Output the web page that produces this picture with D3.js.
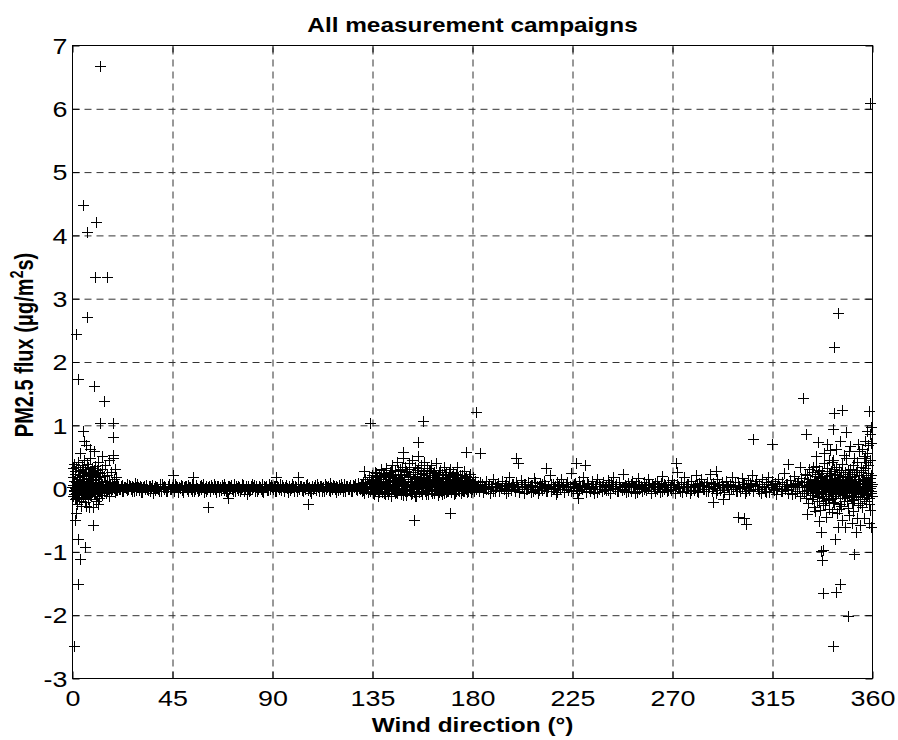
<!DOCTYPE html>
<html>
<head>
<meta charset="utf-8">
<script src="https://cdn.jsdelivr.net/npm/d3@7"></script>
<style>
  body { margin: 0; background: #fff; }
  svg { display: block; }
  text { font-family: "Liberation Sans", Arial, sans-serif; fill: #000; }
</style>
</head>
<body>
<svg id="chart" width="898" height="740"></svg>
<script>
// wind direction (deg) vs PM2.5 flux
const xTicks = [0, 45, 90, 135, 180, 225, 270, 315, 360]
const yTicks = [-3, -2, -1, 0, 1, 2, 3, 4, 5, 6, 7]

// dense cluster just east of north
const northCluster = [
  [0.3,0.05],[0.5,-0.12],[0.6,0.31],[0.8,0.12],[0.9,-0.04],[1.1,0.38],[1.2,0.02],[1.3,-0.18],[1.5,0.22],[1.6,-0.08],
  [1.7,0.09],[1.9,0.33],[2.0,-0.02],[2.1,0.15],[2.2,-0.25],[2.4,0.04],[2.5,0.27],[2.6,-0.11],[2.8,0.07],[2.9,0.41],
  [3.0,-0.06],[3.2,0.18],[3.3,-0.15],[3.4,0.01],[3.6,0.29],[3.7,-0.03],[3.8,0.11],[4.0,-0.2],[4.1,0.06],[4.3,0.36],
  [4.4,-0.09],[4.5,0.14],[4.7,-0.01],[4.8,0.24],[5.0,-0.14],[5.1,0.08],[5.3,0.45],[5.4,-0.05],[5.5,0.19],[5.7,-0.22],
  [5.8,0.03],[6.0,0.3],[6.1,-0.1],[6.3,0.12],[6.4,-0.28],[6.6,0.05],[6.7,0.38],[6.9,-0.04],[7.0,0.16],[7.2,-0.17],
  [7.3,0.02],[7.5,0.26],[7.7,-0.08],[7.8,0.1],[8.0,0.48],[8.1,-0.02],[8.3,0.2],[8.5,-0.13],[8.6,0.04],[8.8,0.32],
  [9.0,-0.06],[9.1,0.13],[9.3,-0.3],[9.5,0.07],[9.6,0.22],[9.8,-0.1],[10.0,0.02],[10.2,0.35],[10.4,-0.04],[10.5,0.15],
  [10.7,-0.2],[10.9,0.05],[11.1,0.28],[11.3,-0.07],[11.5,0.1],[11.7,0.42],[11.9,-0.03],[12.1,0.17],[12.3,-0.15],[12.5,0.04],
  [12.8,0.24],[13.0,-0.06],[13.2,0.09],[13.5,0.3],[13.7,-0.11],[14.0,0.03],[14.3,0.19],[14.5,-0.04],[14.8,0.12],[15.0,0.37],
  [15.3,-0.08],[15.6,0.06],[15.9,0.21],[16.2,-0.02],[16.5,0.1],[16.8,-0.12],[17.1,0.04],[17.4,0.26],[17.7,-0.05],[18.0,0.08],
  [18.3,0.47],[18.6,0.01],[19.0,0.14],[19.3,-0.06],[19.7,0.05],[20.0,0.18],[20.4,-0.03],
  [0.15,0.02],[0.7,-0.03],[1.0,0.05],[1.45,0.0],[1.8,-0.05],[2.3,0.03],[2.7,0.07],[3.1,-0.02],[3.5,0.04],[3.9,0.0],
  [4.2,-0.04],[4.6,0.06],[4.9,0.02],[5.2,-0.03],[5.6,0.05],[5.9,0.0],[6.2,0.08],[6.5,-0.05],[6.8,0.03],[7.1,0.01],
  [7.4,-0.02],[7.9,0.06],[8.4,0.0],[8.9,-0.04],[9.4,0.04],[9.9,0.01],[10.3,-0.03],[10.8,0.07],[11.2,0.02],[11.6,-0.05],
  [12.0,0.04],[12.4,0.0],[12.9,-0.02],[13.4,0.06],[13.9,0.03],[14.4,-0.04],[14.9,0.02],[15.4,0.05],[15.8,-0.01],[16.3,0.03],
  [16.7,-0.04],[17.2,0.07],[17.6,0.01],[18.1,-0.02],[18.5,0.04],[18.9,0.0],[19.4,0.03],[19.8,-0.03],[20.2,0.05],[20.6,0.01],
  [0.25,0.18],[0.75,-0.1],[1.25,0.27],[1.75,-0.16],[2.25,0.12],[2.75,0.34],[3.25,-0.09],[3.75,0.21],[4.25,-0.14],[4.75,0.3],
  [5.25,0.09],[5.75,-0.18],[6.25,0.25],[6.75,-0.07],[7.25,0.33],[7.75,0.14],[8.25,-0.11],[8.75,0.23],[9.25,0.04],[9.75,0.29],
  [10.25,-0.09],[10.75,0.19],[11.25,-0.12],[11.75,0.26]
]

// quiet sector, thin band
const quietBand = [
  [20.9,0.03],[21.6,-0.02],[22.4,0.05],[23.1,-0.04],[23.8,0.01],[24.6,0.06],[25.3,-0.01],[26.1,0.03],[26.8,-0.05],[27.5,0.02],
  [28.3,0.08],[29.0,-0.03],[29.8,0.01],[30.5,0.04],[31.2,-0.06],[32.0,0.02],[32.7,-0.01],[33.5,0.05],[34.2,-0.03],[34.9,0.03],
  [35.7,0.0],[36.4,-0.07],[37.2,0.04],[37.9,0.02],[38.6,-0.02],[39.4,0.06],[40.1,-0.04],[40.9,0.01],[41.6,0.03],[42.3,-0.05],
  [43.1,0.02],[43.8,0.07],[44.6,-0.02],[45.3,0.04],[46.0,-0.01],[46.8,0.03],[47.5,-0.06],[48.3,0.02],[49.0,0.05],[49.7,-0.03],
  [50.5,0.01],[51.2,0.04],[52.0,-0.04],[52.7,0.02],[53.4,-0.01],[54.2,0.06],[54.9,-0.05],[55.7,0.03],[56.4,0.0],[57.1,-0.03],
  [57.9,0.05],[58.6,0.02],[59.4,-0.06],[60.1,0.03],[60.8,-0.01],[61.6,0.04],[62.3,-0.04],[63.1,0.01],[63.8,0.07],[64.5,-0.02],
  [65.3,0.03],[66.0,-0.05],[66.8,0.02],[67.5,0.05],[68.2,-0.03],[69.0,0.01],[69.7,-0.07],[70.5,0.04],[71.2,0.02],[71.9,-0.02],
  [72.7,0.06],[73.4,-0.04],[74.2,0.0],[74.9,0.03],[75.6,-0.05],[76.4,0.02],[77.1,0.05],[77.9,-0.01],[78.6,-0.09],[79.3,0.03],
  [80.1,-0.03],[80.8,0.06],[81.6,0.01],[82.3,-0.04],[83.0,0.04],[83.8,-0.02],[84.5,0.02],[85.3,0.07],[86.0,-0.06],[86.7,0.01],
  [87.5,0.04],[88.2,-0.03],[89.0,0.02],[89.7,0.05],[90.4,-0.02],[91.2,0.03],[91.9,-0.05],[92.7,0.01],[93.4,0.06],[94.1,-0.03],
  [94.9,0.02],[95.6,-0.01],[96.4,0.05],[97.1,-0.06],[97.8,0.03],[98.6,0.0],[99.3,0.04],[100.1,-0.04],[100.8,0.02],[101.5,0.07],
  [102.3,-0.02],[103.0,0.03],[103.8,-0.05],[104.5,0.01],[105.2,0.05],[106.0,-0.03],[106.7,0.02],[107.5,-0.07],[108.2,0.04],[108.9,0.01],
  [109.7,-0.02],[110.4,0.06],[111.2,-0.04],[111.9,0.03],[112.6,0.0],[113.4,-0.05],[114.1,0.04],[114.9,0.02],[115.6,-0.03],[116.3,0.08],
  [117.1,-0.01],[117.8,0.03],[118.6,-0.06],[119.3,0.02],[120.0,0.05],[120.8,-0.02],[121.5,0.01],[122.3,0.06],[123.0,-0.04],[123.7,0.03],
  [124.5,-0.01],[125.2,0.05],[126.0,-0.05],[126.7,0.02],[127.4,0.07],[128.2,-0.03],[128.9,0.04],[129.7,-0.02],
  [21.2,-0.02],[22.0,0.04],[22.7,-0.05],[23.5,0.02],[24.2,0.0],[24.9,-0.03],[25.7,0.05],[26.4,-0.01],[27.2,0.03],[27.9,-0.04],
  [28.6,0.01],[29.4,0.06],[30.1,-0.03],[30.9,0.02],[31.6,-0.06],[32.3,0.04],[33.1,0.01],[33.8,-0.02],[34.6,0.03],[35.3,-0.04],
  [36.0,0.05],[36.8,0.0],[37.5,-0.03],[38.3,0.02],[39.0,-0.05],[39.7,0.03],[40.5,0.06],[41.2,-0.01],[42.0,0.02],[42.7,-0.04],
  [43.4,0.04],[44.2,-0.02],[44.9,0.01],[45.7,-0.05],[46.4,0.06],[47.1,0.02],[47.9,-0.03],[48.6,0.0],[49.4,0.04],[50.1,-0.06],
  [50.8,0.03],[51.6,-0.02],[52.3,0.05],[53.1,0.01],[53.8,-0.04],[54.5,0.02],[55.3,-0.01],[56.0,0.05],[56.8,-0.05],[57.5,0.03],
  [58.2,-0.02],[59.0,0.06],[59.7,0.0],[60.5,-0.04],[61.2,0.02],[61.9,-0.03],[62.7,0.05],[63.4,-0.01],[64.2,0.03],[64.9,-0.06],
  [65.6,0.04],[66.4,0.01],[67.1,-0.03],[67.9,0.02],[68.6,0.06],[69.3,-0.04],[70.1,0.03],[70.8,-0.01],[71.6,0.05],[72.3,-0.05],
  [73.0,0.02],[73.8,0.04],[74.5,-0.03],[75.3,0.01],[76.0,-0.02],[76.7,0.06],[77.5,-0.04],[78.2,0.03],[79.0,0.0],[79.7,-0.05],
  [80.4,0.04],[81.2,-0.02],[81.9,0.05],[82.7,0.01],[83.4,-0.04],[84.1,0.03],[84.9,-0.01],[85.6,-0.05],[86.4,0.04],[87.1,0.02],
  [87.8,-0.03],[88.6,0.06],[89.3,-0.02],[90.1,0.01],[90.8,0.04],[91.5,-0.04],[92.3,0.03],[93.0,-0.01],[93.8,0.02],[94.5,0.05],
  [95.2,-0.05],[96.0,0.02],[96.7,0.0],[97.5,0.04],[98.2,-0.03],[98.9,0.06],[99.7,-0.01],[100.4,0.03],[101.2,-0.05],[101.9,0.01],
  [102.6,0.04],[103.4,-0.03],[104.1,0.02],[104.9,-0.02],[105.6,0.06],[106.3,0.0],[107.1,-0.04],[107.8,0.03],[108.6,-0.01],[109.3,0.05],
  [110.0,-0.03],[110.8,0.02],[111.5,0.04],[112.3,-0.05],[113.0,0.01],[113.7,0.06],[114.5,-0.02],[115.2,0.03],[116.0,-0.04],[116.7,0.02],
  [117.4,0.05],[118.2,-0.01],[118.9,0.04],[119.7,-0.03],[120.4,0.0],[121.1,0.06],[121.9,-0.05],[122.6,0.02],[123.4,0.04],[124.1,-0.02],
  [124.8,0.01],[125.6,-0.04],[126.3,0.05],[127.1,0.03],[127.8,-0.02],[128.5,0.08],[129.3,0.01]
]

// south-east sector, wide band
const southBand = [
  [130.2,0.06],[130.5,-0.04],[130.9,0.1],[131.2,0.02],[131.5,-0.07],[131.9,0.14],[132.2,0.04],[132.5,-0.02],[132.9,0.09],[133.2,-0.06],
  [133.5,0.17],[133.9,0.03],[134.2,-0.05],[134.5,0.12],[134.9,0.01],[135.2,0.2],[135.5,-0.08],[135.9,0.07],[136.2,0.15],[136.5,-0.03],
  [136.9,0.24],[137.2,0.05],[137.5,-0.1],[137.9,0.11],[138.2,0.19],[138.5,-0.02],[138.9,0.08],[139.2,0.28],[139.5,-0.06],[139.9,0.14],
  [140.2,0.03],[140.5,0.22],[140.9,-0.09],[141.2,0.1],[141.5,0.31],[141.9,0.0],[142.2,0.17],[142.5,-0.05],[142.9,0.25],[143.2,0.06],
  [143.5,-0.12],[143.9,0.2],[144.2,0.36],[144.5,0.02],[144.9,0.13],[145.2,-0.07],[145.5,0.27],[145.9,0.09],[146.2,0.41],[146.5,-0.03],
  [146.9,0.18],[147.2,0.05],[147.5,0.3],[147.9,-0.1],[148.2,0.22],[148.5,0.12],[148.9,0.48],[149.2,-0.02],[149.5,0.15],[149.9,0.34],
  [150.2,0.04],[150.5,-0.11],[150.9,0.26],[151.2,0.1],[151.5,0.39],[151.9,-0.05],[152.2,0.19],[152.5,0.07],[152.9,0.44],[153.2,-0.08],
  [153.5,0.23],[153.9,0.14],[154.2,0.33],[154.5,-0.13],[154.9,0.09],[155.2,0.28],[155.5,0.02],[155.9,0.5],[156.2,-0.06],[156.5,0.17],
  [156.9,0.37],[157.2,0.05],[157.5,-0.1],[157.9,0.24],[158.2,0.12],[158.5,0.42],[158.9,-0.04],[159.2,0.2],[159.5,0.08],[159.9,0.31],
  [160.2,-0.09],[160.5,0.15],[160.9,0.27],[161.2,0.03],[161.5,0.36],[161.9,-0.07],[162.2,0.18],[162.5,0.1],[162.9,0.25],[163.2,-0.03],
  [163.5,0.14],[163.9,0.4],[164.2,0.06],[164.5,-0.11],[164.9,0.21],[165.2,0.12],[165.5,0.29],[165.9,-0.05],[166.2,0.09],[166.5,0.23],
  [166.9,0.02],[167.2,0.34],[167.5,-0.08],[167.9,0.16],[168.2,0.07],[168.5,0.26],[168.9,-0.04],[169.2,0.11],[169.5,0.2],[169.9,0.0],
  [170.2,0.3],[170.5,-0.06],[170.9,0.13],[171.2,0.05],[171.5,0.24],[171.9,-0.09],[172.2,0.1],[172.5,0.18],[172.9,0.02],[173.2,0.33],
  [173.5,-0.03],[173.9,0.12],[174.2,0.06],[174.5,0.21],[174.9,-0.07],[175.2,0.09],[175.5,0.16],[175.9,0.01],[176.2,0.27],[176.5,-0.04],
  [176.9,0.11],[177.2,0.05],[177.5,0.19],[177.9,-0.06],[178.2,0.08],[178.5,0.14],[178.9,0.0],[179.2,0.23],[179.5,-0.03],[179.9,0.1],
  [180.2,0.04],[180.5,0.17],[180.9,-0.05],[181.2,0.07],[181.5,0.12],[181.9,-0.01],
  [130.05,0.02],[130.7,0.05],[131.05,-0.03],[131.7,0.07],[132.05,0.0],[132.7,0.04],[133.05,-0.05],[133.7,0.08],[134.05,0.03],[134.7,-0.02],
  [135.05,0.06],[135.7,0.01],[136.05,-0.04],[136.7,0.09],[137.05,0.02],[137.7,0.05],[138.05,-0.06],[138.7,0.1],[139.05,0.04],[139.7,-0.01],
  [140.05,0.07],[140.7,0.0],[141.05,0.12],[141.7,-0.05],[142.05,0.06],[142.7,0.03],[143.05,0.09],[143.7,-0.03],[144.05,0.05],[144.7,0.11],
  [145.05,0.01],[145.7,-0.06],[146.05,0.08],[146.7,0.04],[147.05,-0.02],[147.7,0.13],[148.05,0.06],[148.7,0.0],[149.05,0.1],[149.7,-0.04],
  [150.05,0.07],[150.7,0.02],[151.05,0.14],[151.7,-0.03],[152.05,0.05],[152.7,0.09],[153.05,0.01],[153.7,-0.06],[154.05,0.11],[154.7,0.04],
  [155.05,-0.02],[155.7,0.08],[156.05,0.03],[156.7,0.12],[157.05,-0.05],[157.7,0.06],[158.05,0.0],[158.7,0.1],[159.05,0.04],[159.7,-0.03],
  [160.05,0.07],[160.7,0.02],[161.05,0.13],[161.7,-0.04],[162.05,0.05],[162.7,0.01],[163.05,0.09],[163.7,-0.02],[164.05,0.06],[164.7,0.03],
  [165.05,-0.06],[165.7,0.08],[166.05,0.02],[166.7,0.11],[167.05,-0.03],[167.7,0.05],[168.05,0.0],[168.7,0.07],[169.05,-0.05],[169.7,0.04],
  [170.05,0.09],[170.7,0.01],[171.05,-0.02],[171.7,0.06],[172.05,0.03],[172.7,-0.04],[173.05,0.08],[173.7,0.02],[174.05,-0.01],[174.7,0.05],
  [175.05,0.1],[175.7,-0.03],[176.05,0.04],[176.7,0.0],[177.05,0.07],[177.7,0.02],[178.05,-0.05],[178.7,0.06],[179.05,0.01],[179.7,0.04],
  [180.05,-0.02],[180.7,0.05],[181.05,0.0],[181.7,0.03],
  [135.35,0.13],[135.85,-0.09],[136.35,0.26],[136.85,0.04],[137.35,0.18],[137.85,-0.12],[138.35,0.09],[138.85,0.3],[139.35,0.02],[139.85,0.21],
  [140.35,-0.07],[140.85,0.15],[141.35,0.24],[141.85,0.06],[142.35,-0.1],[142.85,0.19],[143.35,0.29],[143.85,0.01],[144.35,0.16],[144.85,-0.05],
  [145.35,0.22],[145.85,0.11],[146.35,-0.08],[146.85,0.28],[147.35,0.14],[147.85,0.03],[148.35,0.33],[148.85,-0.11],[149.35,0.2],[149.85,0.07],
  [150.35,0.27],[150.85,-0.04],[151.35,0.17],[151.85,0.3],[152.35,-0.09],[152.85,0.12],[153.35,0.25],[153.85,0.0],[154.35,0.19],[154.85,-0.12],
  [155.35,0.14],[155.85,0.32],[156.35,0.05],[156.85,0.22],[157.35,-0.07],[157.85,0.16],[158.35,0.27],[158.85,0.08],[159.35,-0.1],[159.85,0.2],
  [160.35,0.11],[160.85,0.29],[161.35,-0.03],[161.85,0.17],[162.35,0.24],[162.85,-0.08],[163.35,0.06],[163.85,0.21],[164.35,0.13],[164.85,-0.02],
  [165.35,0.26],[165.85,0.1],[166.35,-0.09],[166.85,0.18],[167.35,0.04],[167.85,0.23],[168.35,-0.06],[168.85,0.15],[169.35,0.08],[169.85,0.25],
  [170.35,-0.02],[170.85,0.19],[171.35,0.07],[171.85,0.14],[172.35,-0.08],[172.85,0.22],[173.35,0.03],[173.85,0.17],[174.35,-0.05],[174.85,0.12],
  [175.35,0.2],[175.85,-0.04],[176.35,0.09],[176.85,0.16],[177.35,-0.02],[177.85,0.13],[178.35,0.06],[178.85,0.18],[179.35,-0.06],[179.85,0.08]
]

// south-west to north-west sector
const westBand = [
  [182.5,0.05],[183.1,-0.03],[183.8,0.09],[184.4,0.01],[185.1,-0.06],[185.7,0.04],[186.4,0.12],[187.0,-0.02],[187.7,0.06],[188.3,-0.08],
  [189.0,0.03],[189.6,0.15],[190.3,-0.04],[190.9,0.02],[191.6,0.08],[192.2,-0.05],[192.9,0.0],[193.5,0.11],[194.2,-0.02],[194.8,0.05],
  [195.5,-0.07],[196.1,0.03],[196.8,0.18],[197.4,-0.03],[198.1,0.06],[198.7,0.01],[199.4,-0.05],[200.0,0.09],[200.7,0.02],[201.3,-0.04],
  [202.0,0.13],[202.6,0.04],[203.3,-0.08],[203.9,0.07],[204.6,-0.01],[205.2,0.1],[205.9,0.03],[206.5,-0.06],[207.2,0.05],[207.8,0.16],
  [208.5,-0.02],[209.1,0.04],[209.8,-0.07],[210.4,0.08],[211.1,0.01],[211.7,-0.03],[212.4,0.12],[213.0,0.05],[213.7,-0.05],[214.3,0.02],
  [215.0,0.2],[215.6,-0.04],[216.3,0.06],[216.9,0.0],[217.6,-0.09],[218.2,0.09],[218.9,0.03],[219.5,-0.02],[220.2,0.14],[220.8,0.05],
  [221.5,-0.06],[222.1,0.02],[222.8,0.1],[223.4,-0.03],[224.1,0.04],[224.7,0.24],[225.4,-0.05],[226.0,0.07],[226.7,0.01],[227.3,-0.08],
  [228.0,0.12],[228.6,0.03],[229.3,-0.02],[229.9,0.17],[230.6,0.05],[231.2,-0.06],[231.9,0.08],[232.5,0.0],[233.2,-0.04],[233.8,0.11],
  [234.5,0.04],[235.1,-0.07],[235.8,0.06],[236.4,0.15],[237.1,-0.02],[237.7,0.03],[238.4,-0.05],[239.0,0.09],[239.7,0.02],[240.3,-0.03],
  [241.0,0.13],[241.6,0.06],[242.3,-0.08],[242.9,0.04],[243.6,0.18],[244.2,-0.01],[244.9,0.07],[245.5,-0.05],[246.2,0.1],[246.8,0.02],
  [247.5,-0.03],[248.1,0.22],[248.8,0.05],[249.4,-0.06],[250.1,0.08],[250.7,0.01],[251.4,-0.04],[252.0,0.12],[252.7,0.04],[253.3,-0.07],
  [254.0,0.06],[254.6,0.16],[255.3,-0.02],[255.9,0.03],[256.6,-0.05],[257.2,0.09],[257.9,0.01],[258.5,-0.03],[259.2,0.14],[259.8,0.05],
  [260.5,-0.08],[261.1,0.07],[261.8,0.02],[262.4,-0.04],[263.1,0.11],[263.7,0.04],[264.4,-0.06],[265.0,0.08],[265.7,0.19],[266.3,-0.02],
  [267.0,0.05],[267.6,-0.05],[268.3,0.1],[268.9,0.02],[269.6,-0.03],[270.2,0.13],[270.9,0.06],[271.5,-0.07],[272.2,0.25],[272.8,0.03],
  [273.5,-0.04],[274.1,0.09],[274.8,0.01],[275.4,0.17],[276.1,-0.05],[276.7,0.06],[277.4,0.02],[278.0,-0.08],[278.7,0.12],[279.3,0.04],
  [280.0,-0.03],[280.6,0.2],[281.3,0.07],[281.9,-0.06],[282.6,0.03],[283.2,0.14],[283.9,-0.02],[284.5,0.05],[285.2,-0.05],[285.8,0.1],
  [286.5,0.01],[287.1,0.23],[287.8,-0.04],[288.4,0.08],[289.1,0.03],[289.7,-0.07],[290.4,0.15],[291.0,0.05],[291.7,-0.03],[292.3,0.09],
  [293.0,0.02],[293.6,-0.06],[294.3,0.12],[294.9,0.04],[295.6,-0.09],[296.2,0.07],[296.9,0.18],[297.5,-0.02],[298.2,0.05],[298.8,-0.05],
  [299.5,0.1],[300.1,0.01],[300.8,-0.04],[301.4,0.16],[302.1,0.06],[302.7,-0.07],[303.4,0.03],[304.0,0.13],[304.7,-0.03],[305.3,0.08],
  [306.0,0.21],[306.6,-0.05],[307.3,0.04],[307.9,0.11],[308.6,-0.02],[309.2,0.06],[309.9,-0.08],[310.5,0.14],[311.2,0.02],[311.8,-0.04],
  [312.5,0.09],[313.1,0.18],[313.8,-0.06],[314.4,0.05],[315.1,0.12],[315.7,-0.03],[316.4,0.07],[317.0,-0.09],[317.7,0.15],[318.3,0.03],
  [319.0,-0.05],[319.6,0.1],[320.3,0.24],[320.9,-0.02],[321.6,0.06],[322.2,-0.07],[322.9,0.13],[323.5,0.04],[324.2,-0.1],[324.8,0.19],
  [325.5,0.08],[326.1,-0.04],[326.8,0.11],[327.4,-0.12],[328.1,0.16],[328.7,0.05],[329.4,-0.08],[330.0,0.22],
  [182.35,0.02],[183.35,-0.04],[184.35,0.06],[185.35,0.0],[186.35,-0.02],[187.35,0.04],[188.35,0.01],[189.35,-0.05],[190.35,0.07],[191.35,0.03],
  [192.35,-0.03],[193.35,0.05],[194.35,0.0],[195.35,0.08],[196.35,-0.04],[197.35,0.02],[198.35,0.06],[199.35,-0.01],[200.35,0.04],[201.35,-0.06],
  [202.35,0.03],[203.35,0.07],[204.35,-0.02],[205.35,0.01],[206.35,0.05],[207.35,-0.05],[208.35,0.09],[209.35,0.02],[210.35,-0.03],[211.35,0.06],
  [212.35,0.0],[213.35,-0.04],[214.35,0.04],[215.35,0.07],[216.35,-0.02],[217.35,0.03],[218.35,-0.06],[219.35,0.05],[220.35,0.01],[221.35,-0.01],
  [222.35,0.06],[223.35,0.02],[224.35,-0.05],[225.35,0.04],[226.35,0.08],[227.35,0.0],[228.35,-0.03],[229.35,0.05],[230.35,0.02],[231.35,-0.04],
  [232.35,0.07],[233.35,0.01],[234.35,-0.02],[235.35,0.04],[236.35,-0.06],[237.35,0.06],[238.35,0.03],[239.35,-0.01],[240.35,0.05],[241.35,-0.03],
  [242.35,0.09],[243.35,0.0],[244.35,0.03],[245.35,-0.05],[246.35,0.06],[247.35,0.02],[248.35,-0.02],[249.35,0.04],[250.35,-0.04],[251.35,0.07],
  [252.35,0.01],[253.35,0.03],[254.35,-0.06],[255.35,0.05],[256.35,0.0],[257.35,-0.02],[258.35,0.06],[259.35,0.02],[260.35,-0.04],[261.35,0.04],
  [262.35,0.08],[263.35,-0.01],[264.35,0.03],[265.35,-0.05],[266.35,0.06],[267.35,0.01],[268.35,-0.03],[269.35,0.05],[270.35,0.02],[271.35,-0.02],
  [272.35,0.07],[273.35,0.0],[274.35,-0.06],[275.35,0.04],[276.35,0.02],[277.35,0.06],[278.35,-0.03],[279.35,0.01],[280.35,0.05],[281.35,-0.04],
  [282.35,0.08],[283.35,0.03],[284.35,-0.01],[285.35,0.04],[286.35,-0.05],[287.35,0.06],[288.35,0.0],[289.35,0.03],[290.35,-0.03],[291.35,0.07],
  [292.35,0.02],[293.35,-0.06],[294.35,0.05],[295.35,0.01],[296.35,-0.02],[297.35,0.04],[298.35,0.09],[299.35,-0.04],[300.35,0.03],[301.35,0.0],
  [302.35,0.06],[303.35,-0.05],[304.35,0.02],[305.35,0.05],[306.35,-0.01],[307.35,0.07],[308.35,0.03],[309.35,-0.04],[310.35,0.04],[311.35,0.01],
  [312.35,-0.06],[313.35,0.06],[314.35,0.02],[315.35,-0.02],[316.35,0.08],[317.35,0.0],[318.35,0.04],[319.35,-0.05],[320.35,0.03],[321.35,0.06],
  [322.35,-0.03],[323.35,0.01],[324.35,0.05],[325.35,-0.07],[326.35,0.07],[327.35,0.02],[328.35,-0.04],[329.35,0.09]
]

// north-west sector, widest scatter
const northWestBand = [
  [330.2,0.04],[330.4,-0.15],[330.7,0.21],[330.9,-0.03],[331.1,0.1],[331.4,-0.24],[331.6,0.07],[331.8,0.3],[332.1,-0.08],[332.3,0.15],
  [332.5,0.0],[332.8,-0.18],[333.0,0.26],[333.2,0.05],[333.5,-0.11],[333.7,0.12],[333.9,-0.3],[334.2,0.02],[334.4,0.19],[334.6,-0.06],
  [334.9,0.35],[335.1,0.08],[335.3,-0.21],[335.6,0.13],[335.8,-0.02],[336.0,0.28],[336.3,-0.14],[336.5,0.06],[336.7,-0.35],[337.0,0.17],
  [337.2,0.01],[337.4,-0.09],[337.7,0.24],[337.9,0.1],[338.1,-0.27],[338.4,0.03],[338.6,0.4],[338.8,-0.05],[339.1,0.14],[339.3,-0.19],
  [339.5,0.07],[339.8,0.31],[340.0,-0.12],[340.2,0.0],[340.5,0.2],[340.7,-0.33],[340.9,0.09],[341.2,-0.04],[341.4,0.27],[341.6,0.12],
  [341.9,-0.16],[342.1,0.05],[342.3,0.44],[342.6,-0.08],[342.8,0.16],[343.0,-0.24],[343.3,0.02],[343.5,0.23],[343.7,-0.1],[344.0,0.34],
  [344.2,0.07],[344.4,-0.4],[344.7,0.13],[344.9,-0.02],[345.1,0.29],[345.4,-0.15],[345.6,0.04],[345.8,0.18],[346.1,-0.28],[346.3,0.1],
  [346.5,0.38],[346.8,-0.06],[347.0,0.14],[347.2,-0.2],[347.5,0.03],[347.7,0.25],[347.9,-0.11],[348.2,0.08],[348.4,0.47],[348.6,-0.03],
  [348.9,0.17],[349.1,-0.32],[349.3,0.06],[349.6,0.22],[349.8,-0.13],[350.0,0.01],[350.3,0.3],[350.5,-0.07],[350.7,0.12],[351.0,-0.23],
  [351.2,0.05],[351.4,0.36],[351.7,-0.04],[351.9,0.19],[352.1,-0.17],[352.4,0.09],[352.6,0.26],[352.8,-0.09],[353.1,0.02],[353.3,0.42],
  [353.5,-0.26],[353.8,0.11],[354.0,-0.01],[354.2,0.21],[354.5,-0.14],[354.7,0.07],[354.9,0.33],[355.2,-0.05],[355.4,0.15],[355.6,-0.3],
  [355.9,0.04],[356.1,0.28],[356.3,-0.1],[356.6,0.13],[356.8,0.5],[357.0,-0.02],[357.3,0.18],[357.5,-0.21],[357.7,0.08],[358.0,0.37],
  [358.2,-0.07],[358.4,0.24],[358.7,-0.15],[358.9,0.1],[359.1,0.45],[359.4,-0.04],[359.6,0.2],[359.8,-0.12],[359.9,0.06],
  [330.3,0.01],[330.8,0.05],[331.3,-0.03],[331.9,0.02],[332.4,0.07],[332.9,-0.05],[333.4,0.03],[333.8,0.0],[334.3,-0.02],[334.8,0.06],
  [335.2,0.02],[335.7,-0.04],[336.2,0.04],[336.6,0.09],[337.1,-0.01],[337.6,0.05],[338.0,-0.06],[338.5,0.02],[338.9,0.07],[339.4,-0.03],
  [339.9,0.04],[340.4,0.0],[340.8,-0.05],[341.3,0.06],[341.8,0.02],[342.2,-0.02],[342.7,0.08],[343.2,0.03],[343.6,-0.06],[344.1,0.01],
  [344.6,0.05],[345.0,-0.03],[345.5,0.09],[345.9,0.02],[346.4,-0.04],[346.9,0.06],[347.3,0.0],[347.8,0.04],[348.3,-0.07],[348.7,0.03],
  [349.2,0.1],[349.7,-0.02],[350.1,0.05],[350.6,0.01],[351.1,-0.05],[351.5,0.07],[352.0,0.02],[352.5,-0.03],[352.9,0.06],[353.4,0.0],
  [353.9,-0.06],[354.3,0.04],[354.8,0.08],[355.3,-0.02],[355.7,0.03],[356.2,-0.05],[356.7,0.06],[357.1,0.01],[357.6,0.04],[358.1,-0.03],
  [358.5,0.07],[359.0,0.0],[359.3,-0.05],[359.7,0.03],
  [335.05,-0.12],[335.55,0.22],[336.05,-0.2],[336.55,0.16],[337.05,-0.07],[337.55,0.27],[338.05,-0.15],[338.55,0.12],[339.05,-0.24],[339.55,0.19],
  [340.05,0.05],[340.55,-0.17],[341.05,0.24],[341.55,-0.09],[342.05,0.14],[342.55,-0.22],[343.05,0.3],[343.55,-0.13],[344.05,0.2],[344.55,-0.06],
  [345.05,0.11],[345.55,-0.25],[346.05,0.26],[346.55,-0.1],[347.05,0.19],[347.55,-0.16],[348.05,0.13],[348.55,-0.21],[349.05,0.28],[349.55,-0.08],
  [350.05,0.17],[350.55,-0.14],[351.05,0.23],[351.55,-0.19],[352.05,0.1],[352.55,-0.06],[353.05,0.29],[353.55,-0.12],[354.05,0.15],[354.55,-0.23],
  [355.05,0.25],[355.55,-0.09],[356.05,0.12],[356.55,-0.18],[357.05,0.31],[357.55,-0.11],[358.05,0.2],[358.55,-0.25],[359.05,0.16],[359.55,-0.08]
]

// isolated points away from the band
const outliers = [
  [12.7,6.67],[4.9,4.48],[10.9,4.21],[6.7,4.04],[10.4,3.33],[15.7,3.34],[6.7,2.71],[1.9,2.44],[2.9,1.72],[9.8,1.61],
  [14.2,1.38],[12.8,1.03],[18.4,1.03],[4.9,0.9],[18.4,0.81],[5.2,0.75],[6.1,0.68],[10.0,0.58],[18.4,0.53],[1.9,-0.4],
  [9.4,-0.58],[2.9,-0.8],[5.9,-0.93],[3.4,-1.12],[2.6,-1.52],[0.8,-2.5],[7.7,-0.3],[4.2,-0.28],[11.5,-0.25],[16.5,0.45],
  [8.3,0.62],[13.3,0.5],[19.5,0.3],[3.5,0.55],[1.2,-0.5],
  [133.9,1.03],[157.9,1.06],[155.6,0.73],[61.1,-0.3],[106.1,-0.25],[153.7,-0.5],[170.2,-0.39],[45.4,0.2],[54.4,0.18],[70.1,-0.15],
  [91.9,0.17],[101.9,0.17],[131.6,0.27],[148.9,0.57],[177.4,0.57],[181.6,1.2],[183.7,0.55],[199.9,0.48],[200.6,0.4],[213.4,0.31],
  [226.9,0.4],[230.9,0.36],[227.6,-0.15],[271.9,0.39],[288.4,-0.22],[292.9,-0.18],[289.9,0.27],
  [328.9,1.43],[343.1,1.19],[346.6,1.23],[358.6,1.22],[342.4,0.94],[330.1,0.86],[335.6,0.73],[348.1,0.89],[350.0,0.66],
  [315.1,0.69],[341.0,0.6],[322.1,0.38],[327.7,0.34],[333.4,0.33],[330.7,-0.41],[337.1,-0.69],[344.6,-0.61],[352.6,-0.7],[358.6,-0.55],
  [337.1,-1.0],[338.0,-0.97],[337.6,-1.13],[352.1,-1.04],[337.9,-1.66],[343.9,-1.64],[345.4,-1.51],[349.1,-2.02],[342.4,-2.5],[306.4,0.78],
  [303.4,-0.57],[299.5,-0.45],[302.5,-0.47],[359.2,6.08],[344.6,2.77],[343.1,2.23],
  [355.5,0.62],[356.8,0.75],[357.6,0.9],[358.2,0.68],[359.0,0.85],[359.5,0.97],[356.2,0.48],[357.9,0.55],[359.7,0.72],[354.3,0.58],
  [353.5,0.7],[357.2,0.42],[339.5,-0.45],[341.8,-0.38],[346.5,-0.5],[349.8,-0.42],[351.5,-0.36],[354.8,-0.58],[356.5,-0.47],[358.9,-0.35],
  [345.2,-0.33],[336.2,-0.52],[334.5,-0.36],[347.8,-0.62],[353.2,-0.48],[359.5,-0.62],[343.5,-0.8],[350.8,-0.55],
  [335.0,0.5],[338.5,0.56],[340.8,0.45],[344.0,0.62],[347.2,0.52],[349.5,0.58],[351.8,0.48],[339.8,0.7],[345.8,0.75],[342.2,0.42]
]

const points = [...northCluster, ...quietBand, ...southBand, ...westBand, ...northWestBand, ...outliers]

const LEFT = 72.5, RIGHT = 872.5, TOP = 45.5, BOTTOM = 678.5
const TICK = 7
const SX = 1.25   // the source image is stretched horizontally

const svg = d3.select('#chart')

const x = d3.scaleLinear().domain([0, 360]).range([LEFT, RIGHT])
const y = d3.scaleLinear().domain([-3, 7]).range([BOTTOM, TOP])
const crisp = v => Math.floor(v) + 0.5   // keep 1px strokes sharp

// grid
const grid = svg.append('g').attr('class', 'grid')
grid.append('g').attr('transform', `translate(0,${BOTTOM})`)
  .call(d3.axisBottom(x).tickValues(xTicks.slice(1, -1)).tickSizeInner(-(BOTTOM - TOP)).tickSizeOuter(0).tickFormat(''))
grid.append('g').attr('transform', `translate(${LEFT},0)`)
  .call(d3.axisLeft(y).tickValues(yTicks.slice(1, -1)).tickSizeInner(-(RIGHT - LEFT)).tickSizeOuter(0).tickFormat(''))
grid.selectAll('.domain').remove()
grid.selectAll('line')
  .attr('stroke', '#333')
  .attr('stroke-width', 1)
  .attr('stroke-dasharray', '7,5')

// inward ticks on all four sides
const fmt = d => String(d)
const gxb = svg.append('g').attr('transform', `translate(0,${BOTTOM})`)
  .call(d3.axisBottom(x).tickValues(xTicks).tickSizeInner(-TICK).tickSizeOuter(0).tickPadding(12.2).tickFormat(fmt))
const gxt = svg.append('g').attr('transform', `translate(0,${TOP})`)
  .call(d3.axisTop(x).tickValues(xTicks).tickSizeInner(-TICK).tickSizeOuter(0).tickFormat(''))
const gyl = svg.append('g').attr('transform', `translate(${LEFT},0)`)
  .call(d3.axisLeft(y).tickValues(yTicks).tickSizeInner(-TICK).tickSizeOuter(0).tickPadding(4).tickFormat(fmt))
const gyr = svg.append('g').attr('transform', `translate(${RIGHT},0)`)
  .call(d3.axisRight(y).tickValues(yTicks).tickSizeInner(-TICK).tickSizeOuter(0).tickFormat(''))

;[gxb, gxt, gyl, gyr].forEach(g => {
  g.select('.domain').remove()
  g.selectAll('line').attr('stroke', '#000')
})
;[gxb, gyl].forEach(g => {
  g.selectAll('text')
    .attr('fill', '#000')
    .style('font-size', '21.5px')
    .attr('transform', `scale(${SX},1)`)
})
gyl.selectAll('text').attr('dy', '0.36em')

// box
svg.append('rect')
  .attr('x', LEFT).attr('y', TOP)
  .attr('width', RIGHT - LEFT).attr('height', BOTTOM - TOP)
  .attr('fill', 'none').attr('stroke', '#000').attr('stroke-width', 1)

// markers
const cross = 'M-5.5,0H5.5M0,-5.5V5.5'
svg.append('g').attr('class', 'points')
  .selectAll('path').data(points).join('path')
  .attr('d', cross)
  .attr('transform', d => `translate(${crisp(x(d[0]))},${crisp(y(d[1]))})`)
  .attr('fill', 'none')
  .attr('stroke', '#000')
  .attr('stroke-width', 1)

// titles
svg.append('text')
  .attr('transform', `translate(${(LEFT + RIGHT) / 2},31.5) scale(${SX},1)`)
  .attr('text-anchor', 'middle')
  .style('font-size', '19.5px').style('font-weight', 'bold')
  .text('All measurement campaigns')

svg.append('text')
  .attr('transform', `translate(${(LEFT + RIGHT) / 2},732) scale(${SX},1)`)
  .attr('text-anchor', 'middle')
  .style('font-size', '19.5px').style('font-weight', 'bold')
  .text('Wind direction (°)')

const yl = svg.append('text')
  .attr('transform', `translate(33,345) scale(${SX},1) rotate(-90)`)
  .attr('text-anchor', 'middle')
  .style('font-size', '20px').style('font-weight', 'bold')
yl.append('tspan').text('PM2.5 flux (μg/m')
yl.append('tspan').attr('dy', -8).style('font-size', '14px').text('2')
yl.append('tspan').attr('dy', 8).text('s)')
</script>
</body>
</html>
